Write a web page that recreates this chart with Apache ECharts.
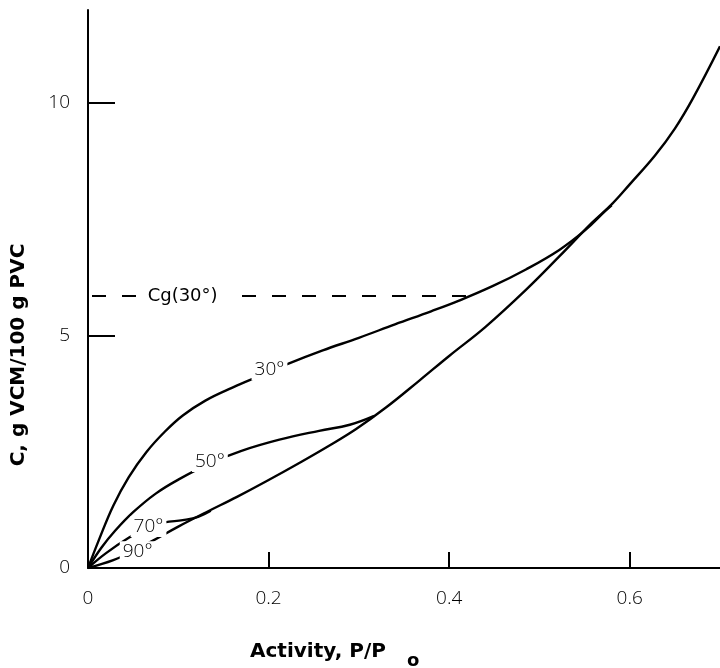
<!DOCTYPE html>
<html>
<head>
<meta charset="utf-8">
<script src="https://cdn.jsdelivr.net/npm/echarts@6/dist/echarts.min.js"></script>
<style>
  html, body { margin: 0; padding: 0; background: #fff; }
  #chart { width: 720px; height: 668px; }
</style>
</head>
<body>
<div id="chart"></div>
<script>
// Sorption isotherms of VCM in PVC: concentration vs activity at several temperatures
const curve30 = [[0,0],[0.012,0.6],[0.028,1.34],[0.045,1.95],[0.065,2.5],[0.085,2.93],[0.105,3.28],[0.13,3.6],[0.16,3.88],[0.19,4.13],[0.22,4.38],[0.26,4.68],[0.30,4.95],[0.34,5.24],[0.38,5.52],[0.411,5.75],[0.448,6.06],[0.485,6.42],[0.522,6.84],[0.551,7.27],[0.573,7.68],[0.58,7.8]];
const curve50 = [[0,0],[0.015,0.44],[0.03,0.8],[0.05,1.2],[0.075,1.6],[0.1,1.9],[0.135,2.25],[0.17,2.52],[0.212,2.76],[0.256,2.95],[0.29,3.08],[0.317,3.27]];
const curve70 = [[0,0],[0.02,0.32],[0.046,0.66],[0.067,0.88],[0.085,0.98],[0.105,1.03],[0.122,1.1],[0.136,1.23]];
const curve90 = [[0,0],[0.028,0.17],[0.05,0.36],[0.073,0.6],[0.10,0.89],[0.131,1.2],[0.165,1.53],[0.197,1.86],[0.235,2.27],[0.267,2.63],[0.297,2.99],[0.33,3.45],[0.367,4.03],[0.40,4.56],[0.44,5.18],[0.485,5.98],[0.522,6.70],[0.558,7.42],[0.58,7.82],[0.60,8.25],[0.628,8.87],[0.65,9.45],[0.67,10.1],[0.70,11.22]];
const cgLevel = 5.85;
const cgLine = [[0,cgLevel],[0.426,cgLevel]];
const curveLabels = [[0.201,4.26,'30°'],[0.135,2.29,'50°'],[0.067,0.89,'70°'],[0.055,0.35,'90°']];
const cgLabel = [0.107,cgLevel,'Cg(30°)'];
const xTicks = [0.2,0.4,0.6];
const xTickLabels = [0,0.2,0.4,0.6];
const yTicks = [5,10];
const yTickLabels = [0,5,10];

const thinFont = { fontFamily: 'Open Sans', fontWeight: 300, fontSize: 19, color: '#000' };
const boldFont = 'bold 20px "DejaVu Sans"';

const chart = echarts.init(document.getElementById('chart'), null, { renderer: 'canvas' });

function curve(data) {
  return {
    type: 'line', data: data, smooth: 0.4, showSymbol: false, symbol: 'none',
    lineStyle: { color: '#000', width: 2.4 }, z: 2
  };
}

chart.setOption({
  backgroundColor: '#fff',
  animation: false,
  grid: { left: 88, right: 0, top: 10, bottom: 100 },
  xAxis: {
    type: 'value', min: 0, max: 0.7,
    axisLine: { show: true, onZero: false, lineStyle: { color: '#000', width: 2 } },
    axisTick: { show: true, inside: true, length: 16, customValues: xTicks, lineStyle: { color: '#000', width: 2 } },
    axisLabel: Object.assign({ customValues: xTickLabels, margin: 21 }, thinFont),
    splitLine: { show: false }
  },
  yAxis: {
    type: 'value', min: 0, max: 12,
    axisLine: { show: true, onZero: false, lineStyle: { color: '#000', width: 2 } },
    axisTick: { show: true, inside: true, length: 27, customValues: yTicks, lineStyle: { color: '#000', width: 2 } },
    axisLabel: Object.assign({ customValues: yTickLabels, margin: 18 }, thinFont),
    splitLine: { show: false }
  },
  series: [
    curve(curve90), curve(curve70), curve(curve50), curve(curve30),
    {
      type: 'line', data: cgLine, showSymbol: false, symbol: 'none', z: 2,
      lineStyle: { color: '#000', width: 2.2, type: [14, 16], dashOffset: -4 }
    }
  ]
});

// Axis titles and in-plot labels; labels sit on a white box so the curve breaks around them
const graphics = [
  { id: 'ytitle', type: 'text', x: 19, y: 355, rotation: Math.PI / 2, z: 100,
    style: { text: 'C, g VCM/100 g PVC', font: boldFont, fill: '#000', align: 'center', verticalAlign: 'middle' } },
  { id: 'xtitle', type: 'text', x: 250, y: 652, z: 100,
    style: { text: 'Activity, P/P', font: boldFont, fill: '#000', align: 'left', verticalAlign: 'middle' } },
  { id: 'xsub', type: 'text', x: 407, y: 661, z: 100,
    style: { text: 'o', font: 'bold 18px "DejaVu Sans"', fill: '#000', align: 'left', verticalAlign: 'middle' } }
];
curveLabels.forEach(function (d, i) {
  const p = chart.convertToPixel({ gridIndex: 0 }, [d[0], d[1]]);
  graphics.push({ id: 'lbl' + i, type: 'text', x: p[0], y: p[1], z: 100,
    style: { text: d[2], fontFamily: 'Open Sans', fontWeight: 300, fontSize: 19, fill: '#000',
      align: 'center', verticalAlign: 'middle', backgroundColor: '#fff', padding: [1, 3] } });
});
const cp = chart.convertToPixel({ gridIndex: 0 }, [cgLabel[0], cgLabel[1]]);
graphics.push({ id: 'cg', type: 'text', x: cp[0], y: cp[1], z: 100,
  style: { text: cgLabel[2], fontFamily: 'DejaVu Sans', fontSize: 18, fill: '#000',
    align: 'center', verticalAlign: 'middle', backgroundColor: '#fff', padding: [2, 9, 2, 5] } });
chart.setOption({ graphic: graphics });
</script>
</body>
</html>
